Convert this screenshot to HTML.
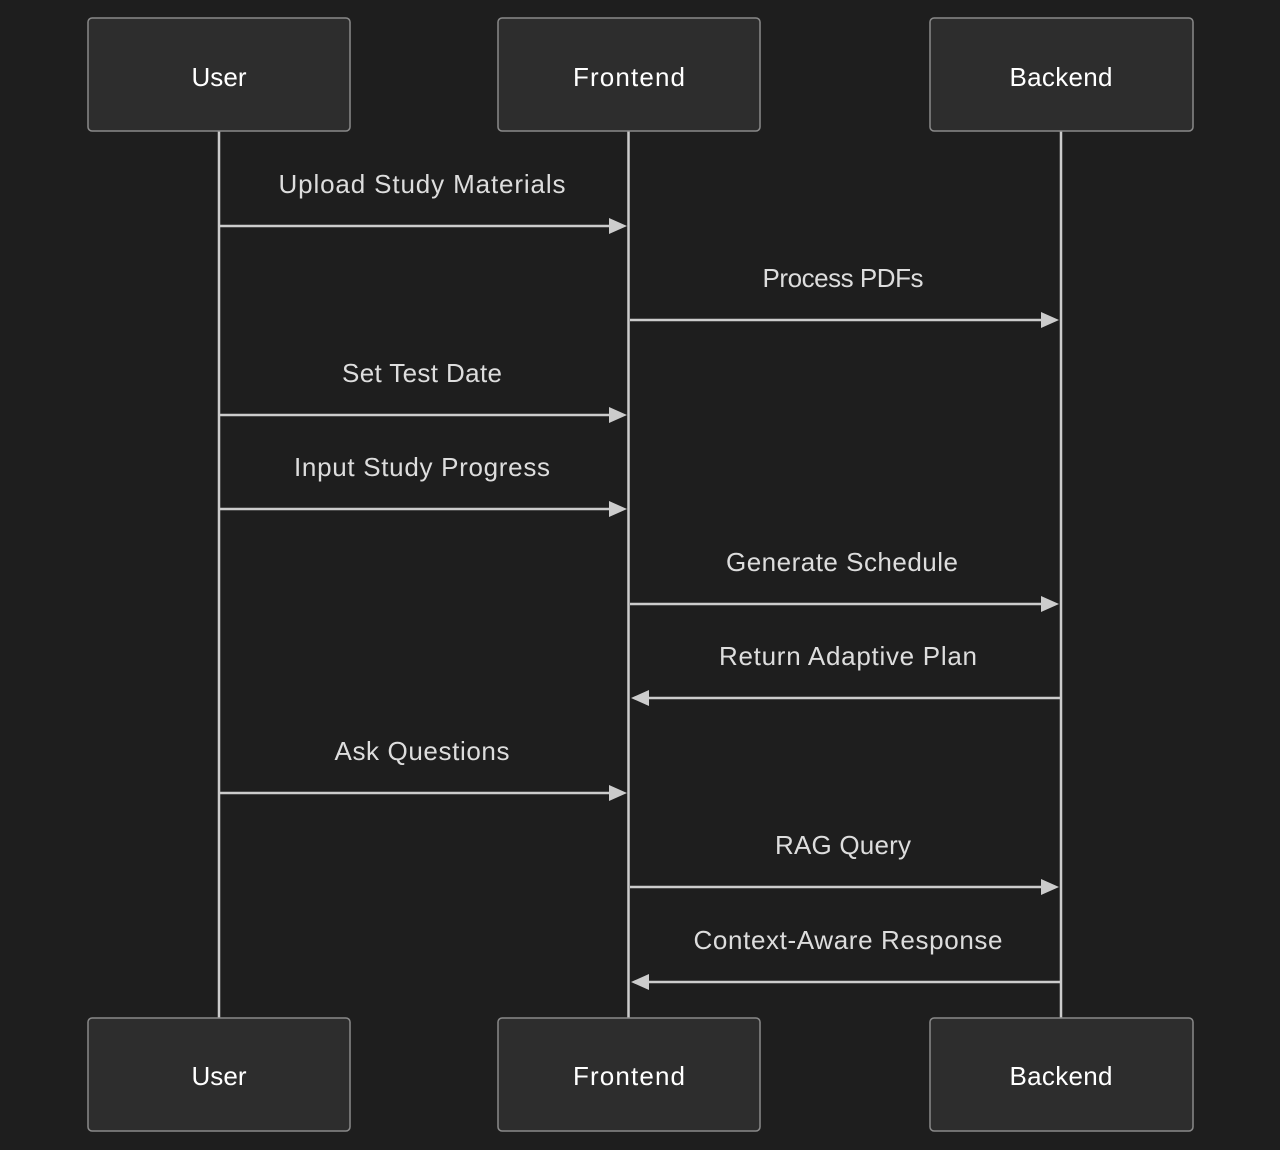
<!DOCTYPE html>
<html><head><style>html,body{margin:0;background:#1e1e1e;}</style></head><body>
<svg width="1280" height="1150" xmlns="http://www.w3.org/2000/svg" style="display:block">
<rect width="1280" height="1150" fill="#1e1e1e"/>
<g stroke="#cccccc" stroke-width="2.5">
<line x1="219" y1="131" x2="219" y2="1018"/>
<line x1="628.5" y1="131" x2="628.5" y2="1018"/>
<line x1="1061" y1="131" x2="1061" y2="1018"/>
</g>
<g fill="#2d2d2d" stroke="#8a8a8a" stroke-width="1.5">
<rect x="88" y="18" width="262" height="113" rx="4"/>
<rect x="498" y="18" width="262" height="113" rx="4"/>
<rect x="930" y="18" width="263" height="113" rx="4"/>
<rect x="88" y="1018" width="262" height="113" rx="4"/>
<rect x="498" y="1018" width="262" height="113" rx="4"/>
<rect x="930" y="1018" width="263" height="113" rx="4"/>
</g>
<g font-family="Liberation Sans, sans-serif" font-size="26" fill="#ffffff" text-anchor="middle" lengthAdjust="spacingAndGlyphs">
<text x="219" y="86" textLength="55">User</text><text x="629" y="86" textLength="112">Frontend</text><text x="1061" y="86" textLength="103">Backend</text>
<text x="219" y="1085" textLength="55">User</text><text x="629" y="1085" textLength="112">Frontend</text><text x="1061" y="1085" textLength="103">Backend</text>
</g>
<g stroke="#cccccc" stroke-width="2.5">
<line x1="220" y1="226" x2="612" y2="226"/>
<line x1="630" y1="320" x2="1044" y2="320"/>
<line x1="220" y1="415" x2="612" y2="415"/>
<line x1="220" y1="509" x2="612" y2="509"/>
<line x1="630" y1="604" x2="1044" y2="604"/>
<line x1="646" y1="698" x2="1060" y2="698"/>
<line x1="220" y1="793" x2="612" y2="793"/>
<line x1="630" y1="887" x2="1044" y2="887"/>
<line x1="646" y1="982" x2="1060" y2="982"/>
</g>
<g fill="#cccccc">
<polygon points="609,218 627,226 609,234"/>
<polygon points="1041,312 1059,320 1041,328"/>
<polygon points="609,407 627,415 609,423"/>
<polygon points="609,501 627,509 609,517"/>
<polygon points="1041,596 1059,604 1041,612"/>
<polygon points="649,690 631,698 649,706"/>
<polygon points="609,785 627,793 609,801"/>
<polygon points="1041,879 1059,887 1041,895"/>
<polygon points="649,974 631,982 649,990"/>
</g>
<g font-family="Liberation Sans, sans-serif" font-size="26" fill="#dddddd" text-anchor="middle" lengthAdjust="spacingAndGlyphs">
<text x="422" y="193" textLength="287">Upload Study Materials</text>
<text x="843" y="287" textLength="161">Process PDFs</text>
<text x="422" y="382" textLength="160">Set Test Date</text>
<text x="422" y="476" textLength="256">Input Study Progress</text>
<text x="842" y="571" textLength="232">Generate Schedule</text>
<text x="848" y="665" textLength="258">Return Adaptive Plan</text>
<text x="422" y="760" textLength="175">Ask Questions</text>
<text x="843" y="854" textLength="136">RAG Query</text>
<text x="848" y="949" textLength="309">Context-Aware Response</text>
</g>
</svg>
</body></html>
